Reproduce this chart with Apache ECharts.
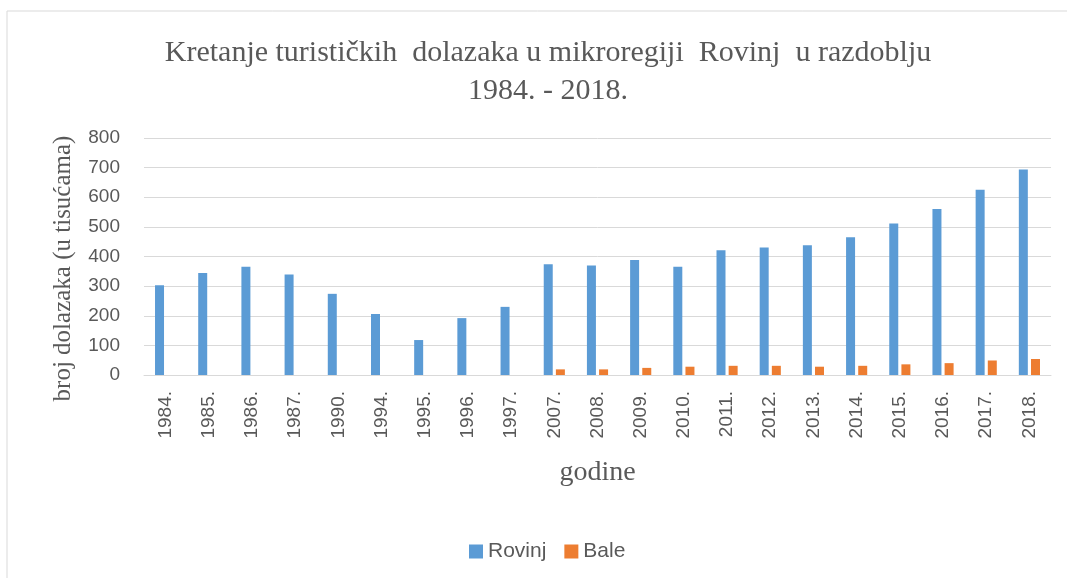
<!DOCTYPE html>
<html>
<head>
<meta charset="utf-8">
<script src="https://cdn.jsdelivr.net/npm/echarts@6/dist/echarts.min.js"></script>
<style>
  html, body { margin: 0; padding: 0; background: #fff; }
  #chart { width: 1067px; height: 578px; }
</style>
</head>
<body>
<div id="chart"></div>
<script>
  // godine (kategorije)
  var years = ['1984.', '1985.', '1986.', '1987.', '1990.', '1994.', '1995.', '1996.', '1997.',
    '2007.', '2008.', '2009.', '2010.', '2011.', '2012.', '2013.', '2014.', '2015.', '2016.', '2017.', '2018.'];
  // dolasci u tisućama, očitano s grafa
  var rovinj = [303, 344, 365, 339, 274, 206, 118, 192, 230,
    374, 370, 388, 365, 421, 430, 438, 465, 511, 560, 625, 694];
  var bale = [null, null, null, null, null, null, null, null, null,
    19, 19, 24, 28, 31, 31, 28, 31, 36, 40, 49, 54];
  var yTicks = [0, 100, 200, 300, 400, 500, 600, 700, 800];

  var chart = echarts.init(document.getElementById('chart'));
  var serif = '"Liberation Serif", "DejaVu Serif", serif';
  var sans = '"Liberation Sans", Arial, sans-serif';

  chart.setOption({
    backgroundColor: '#fff',
    animation: false,
    graphic: [{
      type: 'rect',
      shape: { x: 7, y: 11, width: 1200, height: 700 },
      style: { fill: 'none', stroke: '#d9d9d9', lineWidth: 1 },
      silent: true
    }],
    title: {
      text: 'Kretanje turističkih  dolazaka u mikroregiji  Rovinj  u razdoblju\n1984. - 2018.',
      left: 543,
      top: 29,
      textAlign: 'center',
      textStyle: {
        fontFamily: serif,
        fontSize: 30,
        fontWeight: 'normal',
        color: '#595959',
        lineHeight: 38,
        align: 'center'
      }
    },
    legend: {
      data: ['Rovinj', 'Bale'],
      left: 464,
      top: 536,
      itemWidth: 14,
      itemHeight: 14,
      itemGap: 18,
      icon: 'rect',
      textStyle: { fontFamily: sans, fontSize: 21, color: '#595959' }
    },
    grid: { left: 144, right: 16, top: 138, bottom: 203, containLabel: false },
    xAxis: {
      type: 'category',
      data: years,
      name: 'godine',
      nameLocation: 'middle',
      nameGap: 84,
      nameTextStyle: { fontFamily: serif, fontSize: 28, color: '#595959' },
      axisLine: { lineStyle: { color: '#d9d9d9', width: 1 } },
      axisTick: { show: false },
      axisLabel: {
        rotate: 90,
        interval: 0,
        margin: 16,
        fontFamily: sans,
        fontSize: 19,
        color: '#595959'
      }
    },
    yAxis: {
      type: 'value',
      min: yTicks[0],
      max: yTicks[yTicks.length - 1],
      interval: 100,
      name: 'broj dolazaka (u tisućama)',
      nameLocation: 'middle',
      nameGap: 68,
      nameTextStyle: {
        fontFamily: serif,
        fontSize: 25,
        color: '#595959',
        padding: [0, 24, 0, 0]
      },
      axisLine: { show: false },
      axisTick: { show: false },
      splitLine: { lineStyle: { color: '#d9d9d9', width: 1 } },
      axisLabel: {
        margin: 24,
        fontFamily: sans,
        fontSize: 19,
        color: '#595959'
      }
    },
    series: [{
      name: 'Rovinj',
      type: 'bar',
      data: rovinj,
      barWidth: 9,
      barGap: '35%',
      itemStyle: { color: '#5B9BD5' }
    }, {
      name: 'Bale',
      type: 'bar',
      data: bale,
      barWidth: 9,
      itemStyle: { color: '#ED7D31' }
    }]
  });
</script>
</body>
</html>
